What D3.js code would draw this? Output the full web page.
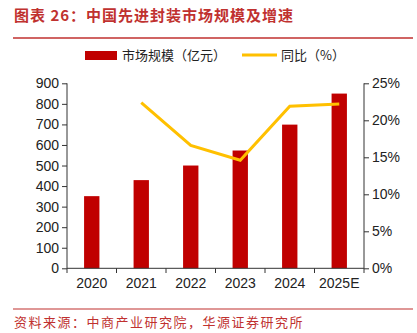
<!DOCTYPE html>
<html><head><meta charset="utf-8">
<script src="https://cdn.jsdelivr.net/npm/d3@7/dist/d3.min.js"></script>
<style>body{margin:0;background:#fff;}svg{display:block;}</style>
</head><body>
<script>
const categories = ["2020","2021","2022","2023","2024","2025E"];
const marketSize = [351, 429, 500, 573, 699, 850];
const growth = [null, 22.4, 16.6, 14.6, 21.9, 22.2];
const leftTicks = [0,100,200,300,400,500,600,700,800,900];
const rightTicks = [0,5,10,15,20,25];
const title = "图表 26：中国先进封装市场规模及增速";
const source = "资料来源：中商产业研究院，华源证券研究所";
const legendLabels = ["市场规模（亿元）","同比（%）"];

const W=417,H=333;
const svg=d3.select("body").append("svg").attr("width",W).attr("height",H);
const cjk="'Noto Sans CJK SC', sans-serif";
const num="'Liberation Sans', Arial, sans-serif";
const red="#C0312F";

svg.append("text").attr("x",14).attr("y",21).attr("fill",red)
  .attr("font-family",cjk).attr("font-size",15).attr("font-weight","bold").attr("letter-spacing",1).text(title);
svg.append("line").attr("x1",13).attr("x2",413).attr("y1",38).attr("y2",38).attr("stroke",red).attr("stroke-width",1.5);

const x=d3.scaleBand().domain(categories).range([67,364]).paddingInner(0.69).paddingOuter(0.345);
const xb=d3.scaleBand().domain(categories).range([67,364]);
const yL=d3.scaleLinear().domain([0,900]).range([268.3,83.3]);
const yR=d3.scaleLinear().domain([0,25]).range([268.3,83.3]);

svg.selectAll("rect.bar").data(marketSize).enter().append("rect")
  .attr("x",(d,i)=>x(categories[i])).attr("width",x.bandwidth())
  .attr("y",d=>yL(d)).attr("height",d=>yL(0)-yL(d)).attr("fill","#C00000");

const line=d3.line().defined(d=>d!=null).x((d,i)=>xb(categories[i])+xb.bandwidth()/2).y(d=>yR(d));
svg.append("path").datum(growth).attr("d",line).attr("fill","none").attr("stroke","#FFC000").attr("stroke-width",3);

// axes
const gL=svg.append("g").attr("transform","translate(67,0)")
  .call(d3.axisLeft(yL).tickValues(leftTicks).tickSize(5).tickPadding(3));
const gR=svg.append("g").attr("transform","translate(364,0)")
  .call(d3.axisRight(yR).tickValues(rightTicks).tickSize(5).tickPadding(3).tickFormat(d=>d+"%"));
const gX=svg.append("g").attr("transform","translate(0,268.3)")
  .call(d3.axisBottom(xb).tickSize(0).tickPadding(10));
// x boundary ticks
const bounds=categories.map(c=>xb(c)).concat([364]);
svg.selectAll("line.xt").data(bounds).enter().append("line")
  .attr("x1",d=>d).attr("x2",d=>d).attr("y1",268.3).attr("y2",273).attr("stroke","#333");
[gL,gR,gX].forEach(g=>{
  g.selectAll("path,line").attr("stroke","#333");
  g.selectAll("text").attr("font-family",num).attr("font-size",14).attr("fill","#222");
});
gL.select(".domain").attr("d","M0,268.3V83.3");
gR.select(".domain").attr("d","M0,268.3V83.3");
gX.select(".domain").attr("d","M67,0H364");

// legend
svg.append("rect").attr("x",85).attr("y",51).attr("width",32).attr("height",9).attr("fill","#C00000");
svg.append("text").attr("x",122).attr("y",60).attr("font-family",cjk).attr("font-size",13).attr("fill","#222").text(legendLabels[0]);
svg.append("line").attr("x1",242).attr("x2",277).attr("y1",55).attr("y2",55).attr("stroke","#FFC000").attr("stroke-width",3);
svg.append("text").attr("x",281).attr("y",60).attr("font-family",cjk).attr("font-size",13).attr("fill","#222").text(legendLabels[1]);

// footer
svg.append("line").attr("x1",13).attr("x2",413).attr("y1",309).attr("y2",309).attr("stroke",red).attr("stroke-width",1.2);
svg.append("text").attr("x",14).attr("y",327).attr("fill",red)
  .attr("font-family",cjk).attr("font-size",13).attr("letter-spacing",1.5).text(source);
</script>
</body></html>
